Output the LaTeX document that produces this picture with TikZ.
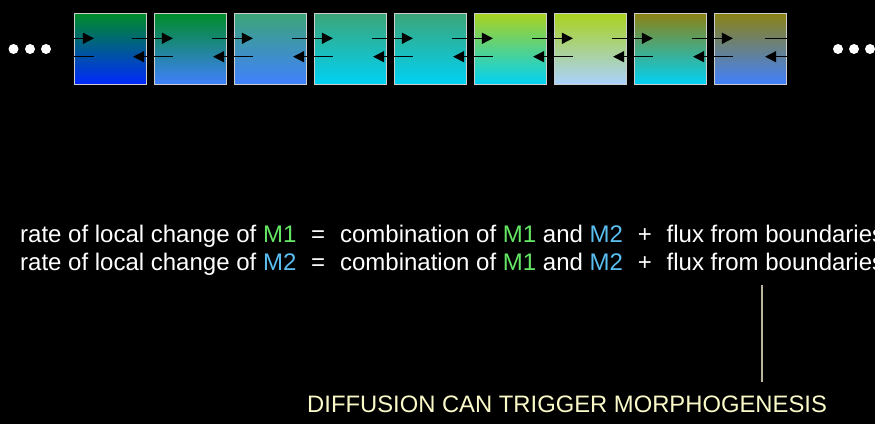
\documentclass[tikz,border=0pt]{standalone}
\usepackage{fontspec}
\setmainfont{Liberation Sans}
\usetikzlibrary{arrows.meta,calc}
\definecolor{mone}{RGB}{100,230,100}
\definecolor{mtwo}{RGB}{90,190,240}
\definecolor{cream}{RGB}{250,250,200}
\definecolor{edge}{RGB}{205,205,205}
\definecolor{vline}{RGB}{185,180,155}
\definecolor{gA}{RGB}{0,140,40}
\definecolor{gB}{RGB}{60,165,120}
\definecolor{gC}{RGB}{170,210,30}
\definecolor{gD}{RGB}{140,130,20}
\definecolor{bA}{RGB}{0,40,255}
\definecolor{bB}{RGB}{64,128,255}
\definecolor{bC}{RGB}{0,210,245}
\definecolor{bD}{RGB}{170,210,255}
\tikzset{
  cell/.style={draw=edge, line width=1.2pt, minimum width=72pt, minimum height=71pt, inner sep=0pt},
  flow/.style={line width=1.3pt, -{Triangle[length=11pt,width=11pt]}},
  flowend/.style={line width=1.3pt},
  dot/.style={circle, fill=white, minimum size=10pt, inner sep=0pt},
  eqtext/.style={anchor=base west, inner sep=0pt, text=white, font=\fontsize{24}{28}\selectfont},
  note/.style={anchor=base west, inner sep=0pt, text=cream, font=\fontsize{23.8}{28}\selectfont}
}
\newcommand{\gapsp}{\hspace{0.62em}}
\begin{document}
\begin{tikzpicture}[x=1pt,y=-1pt]
\fill[black] (0,0) rectangle (875,424);
\useasboundingbox (0,0) rectangle (875,424);
% cells
\node[cell, top color=gA, bottom color=bA] (c1) at (110.5,49) {};
\node[cell, top color=gA, bottom color=bB] (c2) at (190.5,49) {};
\node[cell, top color=gB, bottom color=bB] (c3) at (270.5,49) {};
\node[cell, top color=gB, bottom color=bC] (c4) at (350.5,49) {};
\node[cell, top color=gB, bottom color=bC] (c5) at (430.5,49) {};
\node[cell, top color=gC, bottom color=bC] (c6) at (510.5,49) {};
\node[cell, top color=gC, bottom color=bD] (c7) at (590.5,49) {};
\node[cell, top color=gD, bottom color=bC] (c8) at (670.5,49) {};
\node[cell, top color=gD, bottom color=bB] (c9) at (750.5,49) {};
% arrows between cells
\foreach \i/\j in {1/2,2/3,3/4,4/5,5/6,6/7,7/8,8/9}{
  \draw[flow] ($(c\i.east)+(-15,-10.7)$) -- ($(c\j.west)+(19,-10.7)$);
  \draw[flow] ($(c\j.west)+(19,7.7)$) -- ($(c\i.east)+(-14,7.7)$);
}
% boundary arrows
\draw[flow] ($(c1.west)+(0,-10.7)$) -- ($(c1.west)+(20,-10.7)$);
\draw[flowend] ($(c1.west)+(20,7.7)$) -- ($(c1.west)+(0,7.7)$);
\draw[flowend] ($(c9.east)+(-22,-10.7)$) -- ($(c9.east)+(0,-10.7)$);
\draw[flow] ($(c9.east)+(0,7.7)$) -- ($(c9.east)+(-22,7.7)$);
% dots
\node[dot] (l1) at (13.5,49) {};
\node[dot] (l2) at (30,49) {};
\node[dot] (l3) at (46,49) {};
\node[dot] (r1) at (838,49) {};
\node[dot] (r2) at (854,49) {};
\node[dot] (r3) at (870,49) {};
% equations
\node[eqtext] (eq1) at (20,242) {rate of local change of \textcolor{mone}{M1}\gapsp=\gapsp combination of \textcolor{mone}{M1} and \textcolor{mtwo}{M2}\gapsp+\gapsp flux from boundaries};
\node[eqtext] (eq2) at (20,270.5) {rate of local change of \textcolor{mtwo}{M2}\gapsp=\gapsp combination of \textcolor{mone}{M1} and \textcolor{mtwo}{M2}\gapsp+\gapsp flux from boundaries};
% pointer
\coordinate (ptop) at (762,285);
\coordinate (pbot) at (762,382);
\draw[vline, line width=1.5pt] (ptop) -- (pbot);
\node[note] (msg) at (307,412.5) {DIFFUSION CAN TRIGGER MORPHOGENESIS};
\end{tikzpicture}
\end{document}
